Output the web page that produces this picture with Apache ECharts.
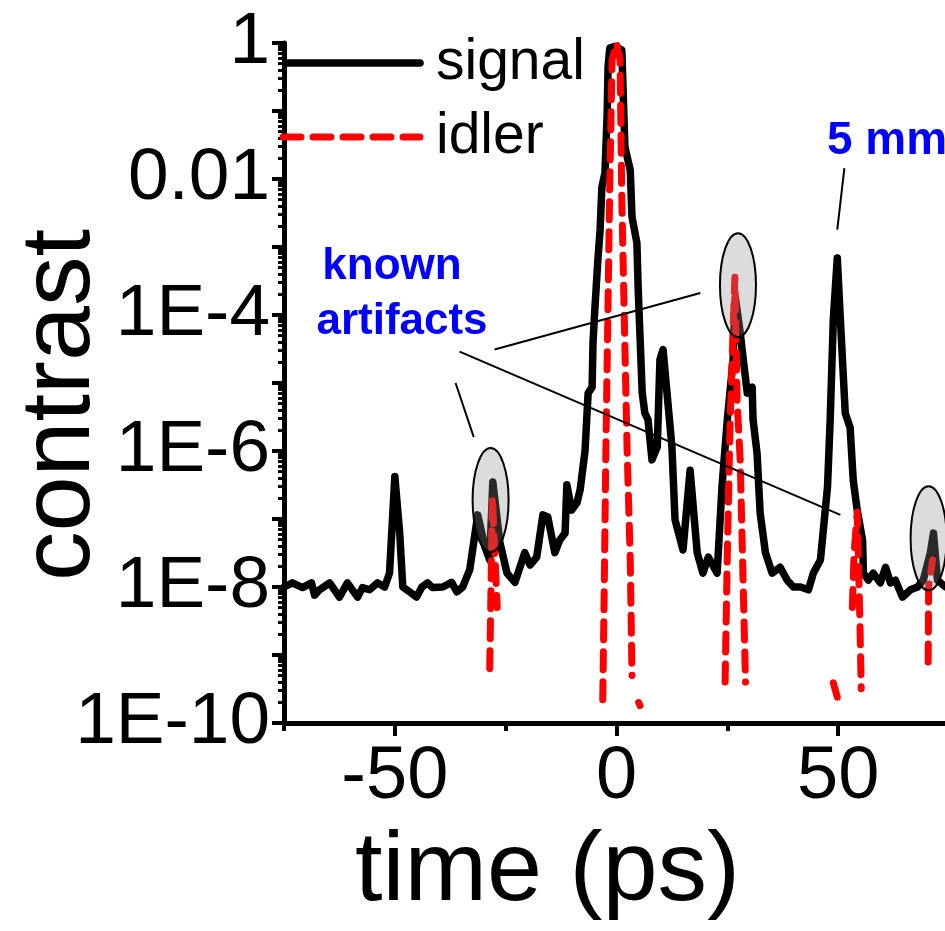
<!DOCTYPE html>
<html><head><meta charset="utf-8">
<script src="https://cdn.jsdelivr.net/npm/echarts@6/dist/echarts.min.js"></script>
<style>html,body{margin:0;padding:0;background:#fff}#c{width:945px;height:931px}</style>
</head><body><div id="c"></div>
<script>
// ---- data (time in ps, contrast) ----
const signal = [
 [-75,1.0e-8],[-73.1,1.15e-8],[-70.8,9.8e-9],[-68.8,1.15e-8],[-68.1,7.6e-9],[-67,9.1e-9],[-64.7,1.15e-8],
 [-62.5,7.1e-9],[-60.7,1.15e-8],[-58.4,7.1e-9],[-57.3,9.8e-9],[-55.7,9.1e-9],[-53.9,1.15e-8],[-52.3,1.0e-8],
 [-51.2,1.6e-8],[-50,4.2e-7],[-48.9,6.2e-8],[-48.2,1.0e-8],[-46.7,8.5e-9],[-45.1,7.1e-9],[-43.9,1.0e-8],
 [-42.6,1.15e-8],[-41.5,9.8e-9],[-39.2,1.0e-8],[-37.2,1.17e-8],[-36,8.5e-9],[-34.7,1.0e-8],[-33.1,1.8e-8],
 [-31.3,1.15e-7],[-29.7,3.9e-8],[-28.6,2.5e-8],[-27.9,3.5e-7],[-26.3,4.5e-8],[-24.7,1.6e-8],[-22.9,1.17e-8],
 [-20.7,3.2e-8],[-19.5,2.1e-8],[-18,2.75e-8],[-16.6,1.15e-7],[-15.5,1.07e-7],[-13.9,3.2e-8],[-12.8,4.9e-8],
 [-11.6,6.2e-8],[-11.2,3.2e-7],[-10.1,1.35e-7],[-8.9,1.74e-7],[-8.2,2.7e-7],[-7.1,1.0e-6],[-6.4,7.1e-6],
 [-5.5,8.7e-6],[-5.3,3.9e-5],[-4.9,1.17e-4],[-4.2,6.5e-4],[-3.7,1.78e-3],[-3.3,7.6e-3],[-2.6,1.23e-2],
 [-2.1,9.3e-2],[-1.9,0.45],[-1.5,0.85],[-0.3,0.89],[1.2,0.79],[1.9,2.95e-2],[3.1,1.35e-2],[3.5,2.75e-3],
 [4.6,1.15e-3],[4.9,2.3e-4],[5.8,7.1e-6],[6.4,3.6e-6],[7.1,2.9e-6],[8,7.4e-7],[9.2,1.15e-6],[9.8,2.2e-5],
 [10.5,3.1e-5],[11.4,7.1e-6],[12.5,1.15e-6],[13.2,9.8e-8],[15,3.5e-8],[16.6,5.2e-7],[18.2,3.2e-8],
 [19.5,1.6e-8],[20.7,2.75e-8],[22.7,1.6e-8],[23.8,3.0e-7],[25,2.9e-6],[26.3,2.2e-5],[26.8,1.8e-4],
 [27.9,5.5e-5],[28.6,2.2e-5],[29.5,7.1e-6],[30.6,8.7e-6],[30.8,2.9e-6],[31.7,9.3e-7],[32.4,1.23e-7],
 [33.6,3.2e-8],[35.1,1.6e-8],[36.9,1.95e-8],[38.5,1.26e-8],[39.9,1.0e-8],[41.5,1.0e-8],[43.3,9.1e-9],
 [44.4,1.6e-8],[46,2.5e-8],[47.6,3.0e-7],[48.2,2.9e-6],[48.9,8.5e-5],[49.8,6.9e-4],[50.5,8.5e-5],
 [51.6,3.6e-6],[52.7,2.2e-6],[53.4,3.7e-7],[54.3,1.35e-7],[55.5,4.9e-8],[55.7,1.6e-8],[56.8,1.26e-8],
 [57.9,1.6e-8],[59.5,1.15e-8],[60.7,1.95e-8],[61.8,1.15e-8],[62.9,1.26e-8],[64.5,7.1e-9],[66.3,9.1e-9],
 [67.9,1.0e-8],[69.2,1.26e-8],[70.8,3.2e-8],[71.5,6.2e-8],[72.4,1.26e-8],[74.2,1.0e-8],[75,1.0e-8]
];
const idler = [
 [-28.6,6.3e-10],[-28.3,1.0e-8],[-28.0,2.1e-7],[-27.6,5.0e-8],[-26.9,5.0e-9], null,
 [-3.1,2.2e-10],[-2.8,6.3e-9],[-2.4,1.0e-6],[-1.9,1.6e-4],[-1.5,1.0e-2],[-1.0,0.56],[0.0,1.0],
 [0.8,0.56],[1.2,5.0e-3],[1.9,3.2e-5],[2.4,1.0e-6],[3.1,2.5e-8],[3.5,5.0e-10], null,
 [5.0,2.0e-10],[5.3,1.8e-10], null,
 [24.5,4.0e-10],[25.0,3.2e-8],[25.6,2.2e-6],[26.3,6.3e-5],[26.7,3.6e-4],[27.2,5.6e-6],[27.9,7.4e-7],
 [28.4,3.2e-8],[29.1,4.0e-10], null,
 [48.9,3.9e-10],[49.8,2.4e-10], null,
 [53.2,5.0e-9],[53.6,3.2e-8],[54.3,1.26e-7],[54.6,2.0e-8],[54.9,3.2e-9],[55.2,3.2e-10], null,
 [70.3,7.9e-10],[70.4,1.0e-8],[71.3,2.5e-8]
];
const yLabelExponents = [-10, -8, -6, -4, -2, 0];
const yLabelTexts = ['1E-10', '1E-8', '1E-6', '1E-4', '0.01', '1'];
const xLabelValues = [-50, 0, 50];
const seriesNames = ['signal', 'idler'];
const axisNames = ['time (ps)', 'contrast'];
// annotation anchors (time, contrast)
const artifactMarks = [[-28.4, 1.9e-7], [27.4, 2.75e-4], [70.4, 5.2e-8]];
const artifactLeaders = [
  [[-36.3, 1.0e-5], [-32.2, 1.6e-6]],
  [[-27.5, 3.1e-5], [18.9, 2.1e-4]],
  [[-35.4, 2.9e-5], [50.5, 1.15e-7]]
];
const mmLeader = [[51.4, 1.45e-2], [49.8, 1.8e-3]];
const annotationTexts = ['known', 'artifacts', '5 mm'];

// ---- build ----
const FONT = "'Liberation Sans', Arial, Helvetica, sans-serif";
const COLORS = ['#000000', '#ff0000'];
const toXY = p => p ? [p[0], Math.log10(p[1])] : ['-', '-'];
const minorTickValues = [];
for (let e = -10; e < 0; e++) for (let k = 2; k <= 9; k++) minorTickValues.push(e + Math.log10(k));

const chart = echarts.init(document.getElementById('c'), null, {renderer: 'canvas'});
chart.setOption({
  animation: false,
  backgroundColor: '#fff',
  color: COLORS,
  grid: {left: 284, top: 43, right: -4, bottom: 208, outerBoundsMode: 'none', containLabel: false},
  legend: {show: false, data: seriesNames},
  xAxis: [{
    type: 'value', min: -75, max: 75, interval: 25, position: 'bottom',
    name: axisNames[0], nameLocation: 'middle', nameGap: 100, nameMoveOverlap: false,
    nameTextStyle: {fontSize: 99, fontFamily: FONT, color: '#000', padding: [0, 138, 0, 0]},
    axisLine: {show: true, onZero: false, lineStyle: {color: '#000', width: 5}},
    axisTick: {show: true, inside: false, length: 8, lineStyle: {color: '#000', width: 4}},
    axisLabel: {show: true, customValues: xLabelValues, margin: 18, fontSize: 74, fontFamily: FONT, color: '#000'},
    splitLine: {show: false}
  }, {
    type: 'value', min: -75, max: 75, interval: 25, position: 'bottom', offset: 0,
    axisLine: {show: false, onZero: false}, axisLabel: {show: false}, splitLine: {show: false},
    axisTick: {show: true, inside: false, length: 13, customValues: xLabelValues, lineStyle: {color: '#000', width: 4}}
  }],
  yAxis: [{
    type: 'value', min: -10, max: 0, interval: 1, position: 'left',
    name: axisNames[1], nameLocation: 'middle', nameGap: 173, nameRotate: 90, nameMoveOverlap: false,
    nameTextStyle: {fontSize: 99, fontFamily: FONT, color: '#000', padding: [0, 44, 0, 0]},
    axisLine: {show: true, onZero: false, lineStyle: {color: '#000', width: 5}},
    axisTick: {show: true, inside: false, length: 12, lineStyle: {color: '#000', width: 4}},
    axisLabel: {
      show: true, margin: 14, fontSize: 73, fontFamily: FONT, color: '#000',
      formatter: v => { const i = yLabelExponents.indexOf(Math.round(v)); return i >= 0 ? yLabelTexts[i] : ''; }
    },
    splitLine: {show: false}
  }, {
    type: 'value', min: -10, max: 0, interval: 1, position: 'left', offset: 0,
    axisLine: {show: false, onZero: false}, axisLabel: {show: false}, splitLine: {show: false},
    axisTick: {show: true, inside: false, length: 6, customValues: minorTickValues, lineStyle: {color: '#000', width: 3}}
  }],
  series: [{
    name: seriesNames[0], type: 'line', xAxisIndex: 0, yAxisIndex: 0,
    symbol: 'none', showSymbol: false, connectNulls: false, clip: true,
    data: signal.map(toXY),
    itemStyle: {color: COLORS[0]},
    lineStyle: {color: COLORS[0], width: 7.5, cap: 'round', join: 'round'}, z: 2
  }, {
    name: seriesNames[1], type: 'line', xAxisIndex: 0, yAxisIndex: 0,
    symbol: 'none', showSymbol: false, connectNulls: false, clip: true,
    data: idler.map(toXY),
    itemStyle: {color: COLORS[1]},
    lineStyle: {color: COLORS[1], width: 7, type: [18, 12], cap: 'round', join: 'round'}, z: 3
  }]
});

function px(p) {
  return [chart.convertToPixel({xAxisIndex: 0}, p[0]), chart.convertToPixel({yAxisIndex: 0}, Math.log10(p[1]))];
}
const g = [];
// legend (key) drawn inside the plot, top-left
g.push({type: 'line', z: 110, shape: {x1: 286, y1: 63, x2: 420, y2: 63},
  style: {stroke: COLORS[0], lineWidth: 7.5, lineCap: 'round'}});
g.push({type: 'line', z: 110, shape: {x1: 283, y1: 137, x2: 420, y2: 137},
  style: {stroke: COLORS[1], lineWidth: 7, lineCap: 'round', lineDash: [18, 12]}});
g.push({type: 'text', z: 110, x: 436, y: 63, style: {text: seriesNames[0], fill: '#000',
  font: "57px " + FONT, textAlign: 'left', textVerticalAlign: 'middle'}});
g.push({type: 'text', z: 110, x: 436, y: 137, style: {text: seriesNames[1], fill: '#000',
  font: "57px " + FONT, textAlign: 'left', textVerticalAlign: 'middle'}});
artifactMarks.forEach(p => {
  const c = px(p);
  g.push({type: 'ellipse', z: 100, shape: {cx: c[0], cy: c[1], rx: 18, ry: 52},
    style: {fill: 'rgba(140,140,140,0.3)', stroke: '#000', lineWidth: 2}});
});
artifactLeaders.concat([mmLeader]).forEach(l => {
  const a = px(l[0]), b = px(l[1]);
  g.push({type: 'line', z: 101, shape: {x1: a[0], y1: a[1], x2: b[0], y2: b[1]},
    style: {stroke: '#000', lineWidth: 2}});
});
g.push({type: 'text', z: 102, x: 392, y: 267, style: {text: annotationTexts[0], fill: '#0000ff',
  font: "bold 44px " + FONT, textAlign: 'center', textVerticalAlign: 'middle'}});
g.push({type: 'text', z: 102, x: 402, y: 322, style: {text: annotationTexts[1], fill: '#0000ff',
  font: "bold 44px " + FONT, textAlign: 'center', textVerticalAlign: 'middle'}});
g.push({type: 'text', z: 102, x: 827, y: 141, style: {text: annotationTexts[2], fill: '#0000ff',
  font: "bold 46px " + FONT, textAlign: 'left', textVerticalAlign: 'middle'}});
chart.setOption({graphic: {elements: g}});
</script>
</body></html>
